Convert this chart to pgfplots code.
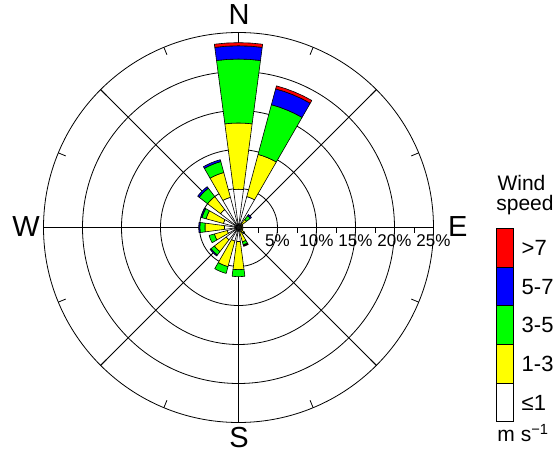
\documentclass[border=0pt]{standalone}
\usepackage{fontspec}
\setmainfont{Liberation Sans}
\usepackage{pgfplots}
\usepackage{pgfplotstable}
\pgfplotsset{compat=1.18}

\definecolor{wsRed}{RGB}{255,0,0}
\definecolor{wsBlue}{RGB}{0,0,255}
\definecolor{wsGreen}{RGB}{0,255,0}
\definecolor{wsYellow}{RGB}{255,255,0}

% Frequency (%) per wind direction (bearing, degrees from north),
% cumulative over the speed classes: each column is the outer radius
% of that class's segment (<=1, 1-3, 3-5, 5-7, >7 m/s).
\pgfplotstableread{
dir    calm  s13   s35   s57   s7
0      4.9   13.4  21.6  23.3  23.7
22.5   4.1   9.7   16.3  18.4  18.8
45     0.6   1.3   1.9   2.1   2.1
67.5   0.3   0.6   0.6   0.6   0.6
90     0.3   0.5   0.5   0.5   0.5
112.5  0.3   0.6   0.6   0.6   0.6
135    0.4   0.9   1.0   1.0   1.0
157.5  0.6   1.9   2.3   2.4   2.5
180    1.8   5.4   6.3   6.3   6.3
202.5  1.8   5.2   6.1   6.1   6.1
225    2.0   3.9   4.45  4.6   4.6
247.5  1.5   3.2   3.9   3.9   3.9
270    1.8   4.3   4.95  5.1   5.1
292.5  2.0   4.3   4.85  5.0   5.0
315    2.9   5.0   6.35  6.6   6.6
337.5  4.0   7.3   8.75  9.0   9.0
}\rosedata

% One segment of a rose petal: bearing, inner radius, outer radius, colour.
% Petals span 15 degrees; arcs are traced through intermediate vertices.
\newcommand\sector[4]{%
  \ifdim#3pt>#2pt
    \pgfmathsetmacro\aA{90-(#1)-7.5}%
    \pgfmathsetmacro\aB{90-(#1)-3.75}%
    \pgfmathsetmacro\aC{90-(#1)}%
    \pgfmathsetmacro\aD{90-(#1)+3.75}%
    \pgfmathsetmacro\aE{90-(#1)+7.5}%
    \edef\next{\noexpand\addplot[draw=black, line width=0.6pt, line join=round,
        fill=#4, data cs=polar, mark=none]
      coordinates {(\aA,#3) (\aB,#3) (\aC,#3) (\aD,#3) (\aE,#3)
                   (\aE,#2) (\aD,#2) (\aC,#2) (\aB,#2) (\aA,#2) (\aA,#3)};}%
    \next
  \fi
}

\begin{document}
\begin{tikzpicture}
% polar grid: 5 % rings and 45 degree spokes (7.8pt per percent)
\begin{scope}[line width=0.8pt]
  \foreach \r in {39,78,117,156} \draw (0,0) circle[radius=\r pt];
  \foreach \a in {0,45,...,315} \draw (0,0) -- (\a:195pt);
  % ticks along the radial scale
  \foreach \k in {1,...,10} \draw (\k*19.5pt,0) -- (\k*19.5pt,-5pt);
\end{scope}

\begin{axis}[
  at={(0,0)}, anchor=origin,
  scale only axis, width=390pt, height=390pt,
  xmin=-25, xmax=25, ymin=-25, ymax=25,
  hide axis, clip=false,
]
\pgfplotstablegetrowsof{\rosedata}
\pgfmathtruncatemacro\lastrow{\pgfplotsretval-1}
\pgfplotsforeachungrouped \i in {0,...,\lastrow}{%
  \pgfplotstablegetelem{\i}{dir}\of\rosedata \let\rdir\pgfplotsretval
  \pgfplotstablegetelem{\i}{calm}\of\rosedata \let\rA\pgfplotsretval
  \pgfplotstablegetelem{\i}{s13}\of\rosedata \let\rB\pgfplotsretval
  \pgfplotstablegetelem{\i}{s35}\of\rosedata \let\rC\pgfplotsretval
  \pgfplotstablegetelem{\i}{s57}\of\rosedata \let\rD\pgfplotsretval
  \pgfplotstablegetelem{\i}{s7}\of\rosedata \let\rE\pgfplotsretval
  \sector{\rdir}{0}{\rA}{white}%
  \sector{\rdir}{\rA}{\rB}{wsYellow}%
  \sector{\rdir}{\rB}{\rC}{wsGreen}%
  \sector{\rdir}{\rC}{\rD}{wsBlue}%
  \sector{\rdir}{\rD}{\rE}{wsRed}%
}
\end{axis}

% outer ring with inward ticks every 22.5 degrees
\draw[line width=0.8pt] (0,0) circle[radius=195pt];
\foreach \a in {0,22.5,...,337.5} \draw[line width=0.8pt] (\a:195pt) -- (\a:187pt);

% radial scale labels
\foreach \k in {5,10,15,20,25}
  \node[anchor=base, inner sep=0pt, font=\fontsize{17}{20}\selectfont]
    at (\k*7.8pt,-19pt) {\k\%};

% compass points
\begin{scope}[every node/.style={inner sep=0pt, font=\fontsize{29}{34}\selectfont}]
  \node[anchor=base] at (0.5pt,202.5pt) {N};
  \node[anchor=base] at (0.5pt,-219.5pt) {S};
  \node[anchor=base east] at (-198.5pt,-9.2pt) {W};
  \node[anchor=base west] at (209.5pt,-9.2pt) {E};
\end{scope}

% speed legend
\begin{scope}[line width=0.8pt]
  \filldraw[fill=wsRed]    (258.2pt,-0.8pt)   rectangle (274.8pt,-39.5pt);
  \filldraw[fill=wsBlue]   (258.2pt,-39.5pt)  rectangle (274.8pt,-78.2pt);
  \filldraw[fill=wsGreen]  (258.2pt,-78.2pt)  rectangle (274.8pt,-116.8pt);
  \filldraw[fill=wsYellow] (258.2pt,-116.8pt) rectangle (274.8pt,-155.5pt);
  \filldraw[fill=white]    (258.2pt,-155.5pt) rectangle (274.8pt,-194.2pt);
\end{scope}
\begin{scope}[every node/.style={inner sep=0pt, font=\fontsize{22}{26}\selectfont}]
  \node[anchor=base west] at (283pt,-27.8pt)  {>7};
  \node[anchor=base west] at (283pt,-66.5pt)  {5-7};
  \node[anchor=base west] at (283pt,-105.2pt) {3-5};
  \node[anchor=base west] at (283pt,-143.9pt) {1-3};
  \node[anchor=base west] at (283pt,-182.5pt) {≤1};
\end{scope}
\begin{scope}[every node/.style={inner sep=0pt, font=\fontsize{21}{25}\selectfont}]
  \node[anchor=base] at (283pt,37.5pt) {Wind};
  \node[anchor=base] at (286.5pt,17.5pt) {speed};
  \node[anchor=base] at (284.5pt,-214.2pt) {m s\textsuperscript{\char"2212 1}};
\end{scope}

% page frame
\path (-238.5pt,227.5pt) rectangle (318.5pt,-225.5pt);
\end{tikzpicture}
\end{document}
